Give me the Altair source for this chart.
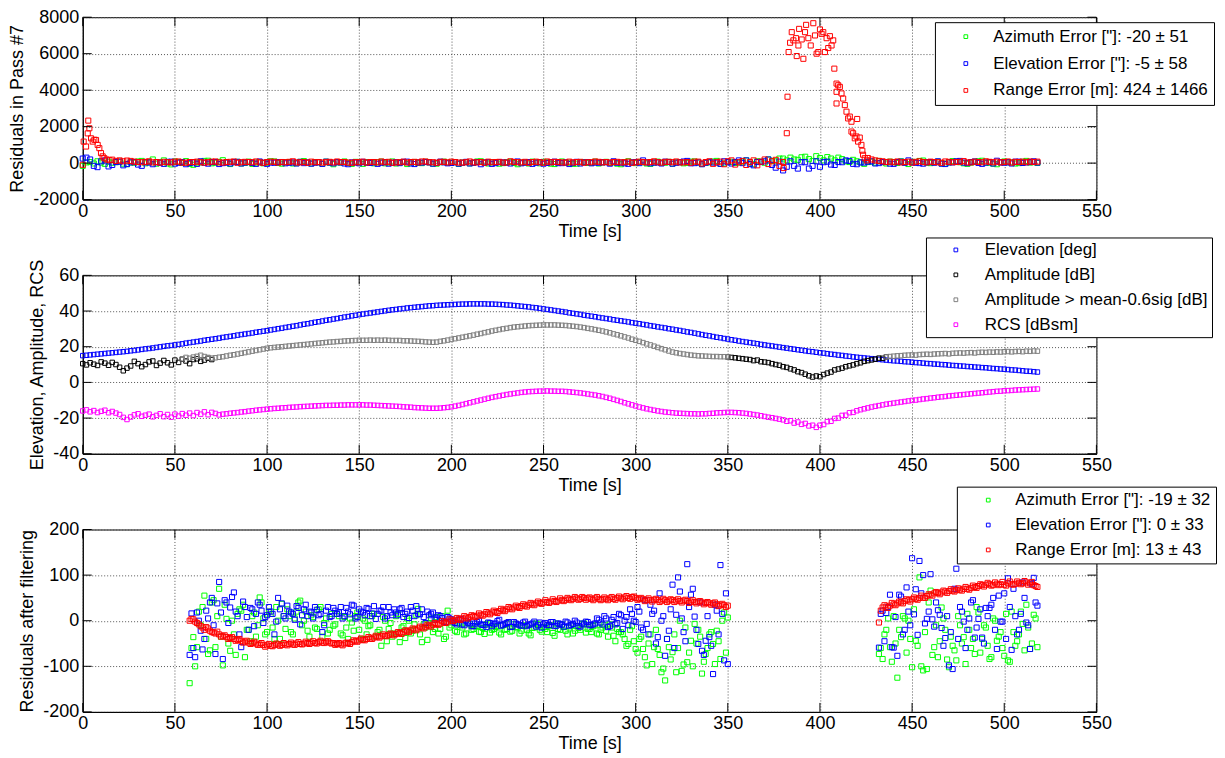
import altair as alt
import pandas as pd

FONT = "Liberation Sans, Arial, sans-serif"

X_TICKS = [0, 50, 100, 150, 200, 250, 300, 350, 400, 450, 500, 550]

# ---------------- Panel 1: residuals in pass #7 (t = 0, 2, 4 ... s) ----------------
P1_LABELS = ['Azimuth Error ["]: -20 \u00b1 51', 'Elevation Error ["]: -5 \u00b1 58',
             'Range Error [m]: 424 \u00b1 1466']
P1_COLORS = ["#00ff00", "#0000ff", "#ff0000"]
P1_YTICKS = [-2000, 0, 2000, 4000, 6000, 8000]
P1_STEP = 2
p1_az = [-150, 40, 60, -20, 100, 30, -40, 80, 20, 50,
         80, -30, -60, 40, 20, 90, 120, -10, 60, 200,
         -30, 50, 150, -20, -70, 90, 60, 10, 110, -40,
         -90, 30, 40, 120, 130, -10, 20, 70, 160, 40,
         -50, 60, 70, -20, 10, 80, -40, 30, 50, -10,
         20, 100, 90, 10, -30, 50, 60, -20, 0, 70,
         110, 30, -20, 60, 40, -30, 80, 20, -60, 50,
         30, 90, 10, -40, 70, 40, -40, 60, 20, -10,
         50, 80, -10, 30, 90, -20, 30, 60, -50, 40,
         60, 10, 0, 70, 40, -30, -30, 50, 80, 20,
         20, 60, -40, 30, 60, -10, 10, 90, 100, 40,
         -20, 50, 50, -30, 0, 60, 70, 10, -60, 30,
         30, -20, 80, 40, -10, 70, 40, -30, -50, 60,
         90, 20, 20, -40, -30, 50, 60, 10, 10, 80,
         -20, 40, 70, 10, 40, -30, -60, 50, 100, 30,
         0, 60, 50, -20, -40, 30, 80, 20, 20, 70,
         -30, 40, 60, -10, 10, 80, 90, 30, -50, 20,
         40, 90, 120, -30, -20, 60, 70, 10, 30, 80,
         150, 40, -60, 100, 80, 20, 200, 120, 100, 250,
         250, 150, 300, 200, 180, 320, 350, 220, 120, 380,
         280, 150, 330, 250, 150, 300, 220, 100, 60, 180,
         100, 40, -40, 60, 80, 20, 120, 50, -20, 80,
         60, 10, 100, 30, -50, 70, 40, 120, 140, 20,
         0, 60, 80, -20, -30, 40, 110, 70, 50, -10,
         -40, 30, 70, 100, 130, 20, 20, -30, -60, 50,
         90, 40, 40, -20, 0, 70, 120, 30, 60, 10]
p1_el = [250, 300, 200, -150, -220, 100, 150, -180, -100, 60,
         80, -120, -50, 40, 60, -80, -150, 50, 30, -60,
         50, 20, -40, 70, 80, -30, 20, 60, -60, 10,
         40, -40, 100, 20, -30, 60, 60, -50, 0, 30,
         -20, 50, 70, -20, 30, 60, 10, -40, 90, 20,
         -40, 30, 20, 60, 60, -10, 20, 40, -20, 70,
         0, 40, -30, 20, 50, -40, 80, 30, -10, 50,
         40, -20, -60, 40, 30, -10, 70, 20, 10, 50,
         -40, 20, 60, -30, 20, 50, 0, 70, 80, -20,
         -50, 40, 30, 60, 40, -30, 10, 80, 40, -10,
         10, 50, -30, 20, 70, -20, 20, 60, -60, 30,
         50, -40, 0, 60, 40, 20, -20, 70, 90, -10,
         30, 60, -40, 20, 60, -30, 10, 50, 80, 0,
         0, 40, -50, 20, 70, -20, 40, 60, -10, 30,
         20, 50, 50, -30, 100, 20, 30, -10, -40, 40,
         60, 0, 150, 40, -10, 30, 40, -20, 80, 60,
         -30, 20, 50, 90, 120, -10, 0, 40, -60, 20,
         70, 30, 30, -40, 100, 50, -20, 60, 150, 0,
         150, -50, -120, 60, 60, 100, 200, -100, -250, 80,
         -400, -200, 100, -150, -300, 50, 50, -300, -150, 100,
         -200, 50, 80, -80, -100, 60, 50, 150, 120, -40,
         -60, 40, 30, 80, 100, -20, 0, 60, 60, -30,
         -40, 60, 80, 20, 150, 40, 20, 0, -30, 50,
         60, 20, 100, -30, -50, 40, 40, 100, 120, 30,
         0, 60, 90, 10, -40, 30, 60, -20, 130, 40,
         20, 50, -20, 80, 80, 10, 40, 60, 100, 30]
p1_rng_head_t = [0, 0.5, 1.8, 2.7, 3.0, 3.6, 4.5, 5.4, 6.3, 7.2, 8.1, 9.0, 9.9, 10.8,
                 11.7, 13, 14.5, 16, 18, 20, 22, 24]
p1_rng_head_v = [-90, 1180, 910, 1630, 2330, 1910, 1360, 1180, 1280, 1270, 1000, 820, 550,
                 370, 270, 200, 160, 190, 120, 150, 100, 140]
P1_RNG_MID_START = 26
p1_rng_mid = [120, 80, 60, 50, 70, 100, 40, 60, 30, 70,
              50, 40, 80, 90, 30, 20, 60, 60, 80, 50,
              30, 50, 80, 90, 40, 30, 60, 70, 90, 20,
              50, 70, 60, 50, 90, 40, 20, 60, 80, 70,
              30, 60, 50, 70, 100, 40, 40, 60, 20, 80,
              50, 60, 30, 50, 70, 40, 90, 60, 60, 30,
              20, 50, 50, 80, 30, 60, 60, 40, 90, 50,
              70, 20, 40, 50, 80, 30, 60, 70, 40, 90,
              90, 50, 50, 20, 70, 70, 40, 80, 60, 30,
              30, 50, 90, 40, 40, 60, 20, 80, 50, 60,
              70, 30, 30, 100, 60, 50, 40, 70, 20, 60,
              80, 50, 20, 90, 50, 70, 60, 40, 30, 80,
              40, 60, 70, 20, 50, 50, 90, 70, 40, 60,
              30, 60, 70, 40, 50, 80, 20, 40, 80, 60,
              40, 60, 100, 50, 30, 70, 70, 50, 90, 40,
              40, 60, 20, 80, 80, -20, 60, 100, -40, 50,
              80, -60, 100, 150, -80, 50, 120, -100, 60, 150,
              -120, 80, 200, -50, 100, 180, -150, 60]
p1_rng_bump_t = [380.3, 382.0, 382.4, 383.0, 383.8, 384.7, 385.6, 387.0, 387.4, 388.3, 388.7,
                 390.1, 391.0, 391.9, 392.5, 393.7, 395.0, 396.4, 397.3, 398.2, 399.1, 400.0,
                 400.9, 401.8, 402.7, 403.6, 404.5, 405.4, 406.3, 407.2, 407.8, 409.0, 409.0,
                 409.0, 409.9, 410.8, 411.7, 412.6, 413.5, 414.4, 415.3, 416.2, 417.1, 417.1,
                 418.0, 418.9, 419.8, 420.2, 420.7, 421.6, 422.5, 423.0, 423.4, 424.3, 425.5]
p1_rng_bump_v = [-270, 1640, 3640, 6090, 6600, 7180, 6730, 6850, 5870, 6450, 7360,
                 6780, 5720, 7180, 7580, 6850, 6450, 7670, 7000, 6000, 6090, 7330,
                 7090, 7180, 6090, 6850, 6310, 6960, 6450, 6730, 5180, 4360, 3910,
                 3270, 4270, 4180, 3820, 3540, 3180, 2820, 2450, 2550, 2270, 1730,
                 1640, 1360, 1460, 2420, 1180, 1400, 1000, 680, 460, 270, 150]
P1_RNG_TAIL_START = 426
p1_rng_tail = [280, 200, 150, 120, 100, 60, 80, 50, 90, 40,
               60, 80, 30, 70, 100, 60, 40, 80, 60, 50,
               20, 90, 70, 50, 60, 70, 110, 40, 40, 80,
               60, 50, 100, 70, 50, 80, 40, 60, 90, 30,
               70, 60, 80, 50, 90, 60, 80]

# ---------------- Panel 2: elevation, amplitude, RCS (2 s sampling) ----------------
P2_LABELS = ["Elevation [deg]", "Amplitude [dB]", "Amplitude > mean-0.6sig [dB]", "RCS [dBsm]"]
P2_COLORS = ["#0000ff", "#000000", "#808080", "#ff00ff"]
P2_YTICKS = [-40, -20, 0, 20, 40, 60]
P2_STEP = 2
p2_elev = [15.0, 15.2, 15.4, 15.6, 15.8, 16.0, 16.2, 16.4, 16.6, 16.8,
           17.0, 17.2, 17.4, 17.7, 17.9, 18.2, 18.5, 18.8, 19.0, 19.3,
           19.6, 19.9, 20.2, 20.5, 20.7, 21.0, 21.3, 21.6, 22.0, 22.3,
           22.6, 22.9, 23.2, 23.6, 23.9, 24.2, 24.5, 24.8, 25.2, 25.5,
           25.8, 26.1, 26.5, 26.8, 27.1, 27.4, 27.7, 28.1, 28.4, 28.7,
           29.0, 29.4, 29.7, 30.1, 30.4, 30.8, 31.1, 31.5, 31.8, 32.2,
           32.6, 32.9, 33.3, 33.7, 34.0, 34.4, 34.8, 35.1, 35.5, 35.8,
           36.2, 36.6, 36.9, 37.3, 37.6, 38.0, 38.3, 38.6, 38.9, 39.2,
           39.5, 39.8, 40.1, 40.4, 40.7, 40.9, 41.2, 41.4, 41.7, 41.9,
           42.1, 42.3, 42.5, 42.7, 42.9, 43.0, 43.2, 43.3, 43.4, 43.5,
           43.6, 43.7, 43.8, 43.9, 43.9, 44.0, 44.0, 44.0, 44.0, 44.0,
           43.9, 43.9, 43.8, 43.7, 43.6, 43.4, 43.3, 43.1, 42.9, 42.7,
           42.5, 42.3, 42.0, 41.8, 41.5, 41.2, 40.9, 40.6, 40.3, 40.0,
           39.7, 39.4, 39.0, 38.7, 38.4, 38.1, 37.7, 37.4, 37.1, 36.8,
           36.4, 36.1, 35.8, 35.5, 35.1, 34.8, 34.5, 34.2, 33.9, 33.5,
           33.2, 32.9, 32.5, 32.2, 31.8, 31.5, 31.1, 30.8, 30.5, 30.1,
           29.8, 29.4, 29.1, 28.7, 28.3, 28.0, 27.6, 27.2, 26.8, 26.4,
           26.1, 25.7, 25.3, 25.0, 24.6, 24.3, 23.9, 23.6, 23.2, 22.9,
           22.6, 22.3, 22.0, 21.7, 21.3, 21.0, 20.7, 20.4, 20.1, 19.8,
           19.5, 19.2, 18.9, 18.6, 18.3, 18.0, 17.7, 17.4, 17.2, 16.9,
           16.6, 16.4, 16.1, 15.8, 15.6, 15.3, 15.1, 14.8, 14.6, 14.3,
           14.1, 13.9, 13.7, 13.5, 13.3, 13.1, 12.9, 12.7, 12.5, 12.3,
           12.1, 12.0, 11.8, 11.6, 11.5, 11.3, 11.1, 11.0, 10.8, 10.6,
           10.5, 10.3, 10.2, 10.0, 9.9, 9.7, 9.5, 9.4, 9.2, 9.1,
           8.9, 8.8, 8.6, 8.5, 8.3, 8.2, 8.0, 7.8, 7.7, 7.5,
           7.4, 7.2, 7.0, 6.9, 6.7, 6.5, 6.3, 6.2, 6.0, 5.8]
P2_AMP_A_START = 0
p2_amp_a = [10.5, 9.8, 11.0, 10.2, 9.5, 11.5, 10.8, 9.6, 11.2, 10.0, 8.5, 6.5, 8.0, 9.2, 11.8,
            10.5, 8.8, 10.0, 11.5, 12.0, 9.5, 10.8, 12.3, 11.0, 9.8, 12.5, 11.2, 13.0, 12.0,
            10.5, 12.8, 13.2, 11.8, 12.5, 13.5, 12.8]
P2_AMP_B_START = 350
p2_amp_b = [14.3, 14.0, 13.8, 13.5, 13.3, 13.0, 12.8, 12.2, 12.5, 11.6, 11.4, 11.1, 10.5, 10.0,
            9.6, 8.8, 8.4, 7.6, 7.0, 6.0, 5.5, 4.6, 3.7, 3.0, 3.6, 3.2, 4.4, 5.2, 5.8, 7.0, 7.5,
            8.0, 8.8, 9.3, 9.8, 10.5, 11.0, 11.8, 12.2, 12.6, 13.0, 13.6, 13.5, 14.3]
P2_GOOD_A_START = 54
p2_good_a = [13.2, 14.0, 13.5, 14.2, 14.6, 15.2, 14.5, 14.0, 13.6, 13.8,
             14.1, 14.4, 14.8, 15.2, 15.5, 15.9, 16.3, 16.7, 17.1, 17.5,
             17.9, 18.3, 18.7, 19.1, 19.4, 19.6, 19.8, 20.0, 20.2, 20.4,
             20.6, 20.8, 21.0, 21.2, 21.4, 21.6, 21.8, 22.0, 22.2, 22.4,
             22.6, 22.7, 22.9, 23.0, 23.2, 23.3, 23.4, 23.5, 23.6, 23.6,
             23.6, 23.7, 23.6, 23.7, 23.6, 23.7, 23.6, 23.5, 23.5, 23.5,
             23.3, 23.3, 23.2, 23.1, 23.0, 22.9, 22.7, 22.6, 22.5, 22.6,
             23.0, 23.3, 23.7, 24.1, 24.5, 24.9, 25.3, 25.7, 26.1, 26.5,
             27.0, 27.4, 27.9, 28.3, 28.8, 29.2, 29.6, 30.0, 30.3, 30.7,
             31.0, 31.2, 31.4, 31.6, 31.8, 31.9, 32.0, 32.1, 32.2, 32.2,
             32.2, 32.2, 32.1, 32.0, 31.9, 31.7, 31.5, 31.3, 31.0, 30.7,
             30.3, 30.0, 29.6, 29.2, 28.8, 28.3, 27.8, 27.2, 26.7, 26.1,
             25.5, 24.9, 24.2, 23.6, 23.0, 22.3, 21.6, 21.0, 20.3, 19.6,
             18.9, 18.3, 17.6, 17.0, 16.6, 16.2, 15.9, 15.6, 15.3, 15.1,
             14.9, 14.8, 14.7, 14.6, 14.5, 14.5, 14.4, 14.4, 14.3]
P2_GOOD_B_START = 436
p2_good_b = [14.3, 14.5, 14.7, 14.9, 15.0, 15.2, 15.3, 15.4, 15.3, 15.6,
             15.7, 15.8, 15.7, 15.9, 16.0, 16.1, 16.2, 16.0, 16.3, 16.4,
             16.5, 16.4, 16.6, 16.7, 16.5, 16.8, 16.9, 16.8, 17.0, 16.9,
             17.1, 17.0, 17.2, 17.3, 17.1, 17.3, 17.4, 17.2, 17.5, 17.4,
             17.6, 17.5]
p2_rcs = [-16.0, -15.4, -16.5, -15.8, -16.9, -16.2, -15.6, -17.0, -16.3, -17.2,
          -18.0, -19.6, -20.8, -19.4, -18.2, -17.6, -19.0, -18.4, -17.8, -19.3,
          -18.5, -17.6, -19.2, -18.0, -19.5, -17.8, -18.9, -17.5, -18.4, -17.2,
          -18.6, -16.9, -17.8, -16.5, -18.1, -16.8, -17.4, -18.2, -17.8, -17.6,
          -17.3, -17.1, -16.9, -16.6, -16.4, -16.1, -15.9, -15.6, -15.4, -15.2,
          -15.0, -14.8, -14.6, -14.5, -14.3, -14.2, -14.0, -13.9, -13.8, -13.6,
          -13.5, -13.4, -13.3, -13.2, -13.1, -13.0, -12.9, -12.9, -12.8, -12.8,
          -12.7, -12.7, -12.6, -12.6, -12.6, -12.6, -12.6, -12.7, -12.7, -12.8,
          -12.9, -13.0, -13.1, -13.2, -13.3, -13.4, -13.5, -13.7, -13.8, -13.9,
          -14.1, -14.2, -14.3, -14.4, -14.5, -14.5, -14.5, -14.4, -14.2, -14.0,
          -13.7, -13.3, -12.9, -12.4, -11.9, -11.4, -10.9, -10.4, -9.9, -9.4,
          -8.9, -8.4, -8.0, -7.6, -7.2, -6.8, -6.5, -6.2, -5.9, -5.6,
          -5.4, -5.2, -5.1, -5.0, -4.9, -4.9, -4.8, -4.9, -4.9, -5.0,
          -5.0, -5.1, -5.3, -5.5, -5.7, -5.9, -6.2, -6.5, -6.8, -7.1,
          -7.5, -7.9, -8.4, -8.9, -9.5, -10.1, -10.7, -11.4, -12.0, -12.6,
          -13.2, -13.8, -14.3, -14.8, -15.2, -15.6, -16.0, -16.3, -16.6, -16.8,
          -17.0, -17.2, -17.3, -17.4, -17.5, -17.6, -17.6, -17.7, -17.6, -17.6,
          -17.4, -17.3, -17.1, -17.0, -16.9, -16.8, -16.8, -16.9, -17.0, -17.2,
          -17.4, -17.7, -18.0, -18.3, -18.7, -19.1, -19.5, -19.8, -20.2, -20.6,
          -21.0, -21.8, -21.5, -22.8, -22.2, -23.5, -23.0, -24.4, -24.0, -25.2,
          -24.0, -23.6, -22.0, -21.8, -20.2, -20.0, -18.5, -18.4, -17.0, -16.8,
          -15.9, -15.3, -14.8, -14.3, -13.8, -13.4, -13.0, -12.6, -12.2, -11.9,
          -11.6, -11.3, -11.0, -10.7, -10.4, -10.1, -9.9, -9.6, -9.3, -9.1,
          -8.8, -8.6, -8.3, -8.1, -7.9, -7.6, -7.4, -7.2, -7.0, -6.8,
          -6.6, -6.4, -6.2, -6.0, -5.8, -5.6, -5.4, -5.2, -5.0, -4.9,
          -4.7, -4.6, -4.5, -4.3, -4.2, -4.1, -4.0, -3.9, -3.8, -3.7]

# ---------------- Panel 3: residuals after filtering ----------------
P3_LABELS = ['Azimuth Error ["]: -19 \u00b1 32', 'Elevation Error ["]: 0 \u00b1 33',
             'Range Error [m]: 13 \u00b1 43']
P3_COLORS = ["#00ff00", "#0000ff", "#ff0000"]
P3_YTICKS = [-200, -100, 0, 100, 200]
P3_STEP = 2
P3_SEG1_EVEN, P3_SEG1_ODD = 58, 59
P3_SEG2_EVEN, P3_SEG2_ODD = 432, 433
p3_az_1e = [-137, -36, -58, -10, 55, -73, 40, -58, 70, -98, 4, -66, -30, 15, 22, -80, -20, 10,
            -35, 51, 5, -25, 15, -40, 0, 37, -18, 10, -30, 20, 44, 0, -22, 12, -15, 25, -35, 5,
            -20, -11, 15, -28, 8, -40, -4, 10, -20,
            5, -30, -10, 15, -25, -55, 0, -18, -35, 10, -47, -12, 5, -28, -8, 26, -47, -15, -5,
            -25, 8, -18, -40, 22, -10, -22, -5, -15, -28, -8, -18, -12, -25, -29, -6, -20, -14,
            -26, -10, -18, -24, -8, -15, -22, -12, -28, -16, -6, -20, -14, -25, -10, -33, -18,
            -8, -22, -15, -28, -12, -20, -6, -18, -25, -10, -30, -15, -22, -8, -33, -18, -25,
            -40, -51, -12, -62, -40, -62, -98, -30, -58, -62, -113, -131, -58, -69, -113, 0,
            -96, -91, -44, -7, -20, -116, -73, -30, -51, -22, -84, 18, 7]
p3_az_1o = [-60, -100, 20, 30, -40, -65, 45, 10, -35, 35,
            -50, 0, -75, 25, 35, -20, -45, 18, -10, 40,
            -30, 20, -15, 30, -40, 10, 25, -25, 5, 40,
            -10, 20, -35, 8, -18, 30, -5, -28, 15, -8,
            10, -32, -15, 5, -22, 18, -40, 0, -12, 10,
            -35, -20, 8, -45, -5, -28, 15, -15, -38, 0,
            -22, 12, -30, -8, -42, 5, -18, -28, 10, -35,
            -15, 0, -25, -10, -30, -5, -20, -12, -24, -16,
            -8, -26, -18, -12, -30, -20, -6, -22, -14, -28,
            -10, -20, -32, -15, -8, -24, -18, -12, -27, -6,
            -20, -14, -30, -10, -22, -16, -8, -26, -18, -12,
            -28, -20, -10, -35, -15, -45, -25, -30, -55, -20,
            -45, -70, -35, -80, -50, -95, -20, -75, -105, -40,
            -85, -30, -60, -110, -15, -70, -100, -50, -35, -90,
            -60, -25, -95, -45, 0, -70]
p3_el_1e = [-75, -60, 18, -22, -40, 5, 50, -73, 85, -84, 40, 29, 62, 10, -58, 30, -20, 25, 15,
            35, -5, 12, 20, -30, 50, 38, 5, 20, 15, 32, -8, 25, 10, 18, 30, 12, -25, 22, 8, 28,
            15, 30, 10, 20, 35, 5, 25,
            18, 28, 10, 32, 15, 22, 5, 30, 12, 18, 25, 8, 20, 30, 10, 15, 25, -5, 12, 18, 5, 10,
            -2, 8, 3, -5, 2, -8, 0, -6, -12, -3, -8, -10, -4, -12, -6, 2, -9, -5, -14, -3, -8,
            -11, -2, -9, -6, -13, -4, -8, -10, -3, -12, -6, -9, -2, -11, -7, -4, -13, -8, -3,
            -10, -6, 2, -8, 5, -12, 8, -5, 12, 0, -10, 15, -3, 20, -20, -7, 35, 22, -36, 0, -77,
            -22, 79, 13, 64, -25, 124, 57, 9, -51, -66, -44, -36, -117, 22, 122, -87, -95]
p3_el_1o = [16, -80, 0, -63, 22, 40, -10, 38, 18, 45,
            -5, 52, 20, -30, 42, 8, 28, -12, 40, 22,
            8, 30, 15, -2, 25, 10, 33, 18, 2, 28,
            12, 35, 20, 5, 24, 15, -10, 30, 10, 22,
            18, 5, 28, 14, 33, 8, 20, 12, 26, 16,
            4, 22, 30, 10, 18, 25, 12, 28, 15, 6,
            22, 32, 14, 8, 20, 15, 2, 12, 6, -3,
            5, -2, -8, 4, -10, -4, -12, -6, 0, -9,
            -14, -5, -8, -1, -11, -7, -3, -13, -6, -10,
            -4, -12, -8, -2, -10, -15, -5, -9, -3, -11,
            -7, -13, -4, -9, 0, -12, -6, -2, -10, -8,
            5, -4, 10, -14, 2, -8, 15, -18, 8, 25,
            0, 30, -15, 45, -30, 15, -50, 60, 10, -40,
            25, -60, 95, 5, -45, 30, 70, -20, 40, -75,
            10, -55, 35, -30, 15, 60]
p3_rng_1e = [0, 3, -5, -12, -20, -17, -25, -28, -30, -34, -36, -38, -40, -42, -44, -46, -48,
             -49, -50, -52, -53, -54, -55, -53, -52, -53, -52, -51, -52, -50, -51, -50, -49, -48,
             -49, -47, -48, -46, -48, -49, -51, -52, -50, -49, -47, -45, -43, -42, -40, -39, -37,
             -35, -34, -33, -31, -30, -29, -27, -25, -23, -21, -19, -17, -15, -13, -11, -9, -7,
             -6, -4, -2, 0, 2, 3, 5, 7, 8, 10, 11, 13, 14, 16, 18, 19, 21, 23, 25, 27, 29, 30,
             32, 33, 35, 36, 38, 39, 40, 41, 42, 43, 44, 45, 46, 47, 48, 49, 48, 50, 49, 48, 49,
             48, 47, 48, 49, 48, 50, 49, 51, 50, 52, 50, 48, 47, 46, 45, 46, 45, 44, 45, 44, 45,
             44, 43, 44, 43, 42, 41, 42, 40, 39, 38, 38, 36, 35, 34, 33]
p3_rng_1o = [4, -2, -8, -15, -14, -22, -26, -24, -35, -32, -40, -36, -44, -40, -48, -44, -51,
             -46, -53, -49, -57,
             -51, -56, -50, -55, -49, -54, -48, -53, -47, -52, -46, -51, -45, -50, -44, -49,
             -45, -50, -53, -49, -54, -48, -51, -43, -46, -39, -43, -36, -40, -33, -37, -30,
             -34, -28, -32, -25, -29, -21, -25, -17, -21, -13, -17, -9, -13, -5, -9, -1, -5, 3,
             -1, 6, 2, 10, 5, 12, 8, 16, 11, 19, 14, 22, 17, 26, 21, 30, 25, 33, 28, 36, 31, 39,
             34, 42, 37, 45, 39, 47, 41, 49, 43, 50, 45, 52, 46, 52, 46, 51, 45, 52, 45, 51, 45,
             52, 46, 53, 47, 54, 48, 53,
             46, 50, 43, 49, 42, 48, 41, 48, 41, 47, 41, 47, 40, 46, 39, 45, 38, 43, 36, 41, 35,
             40, 32, 37, 30]
p3_az_2e = [-73, -84, -20, -58, 10, -125, -36, 5, 0, -102, -44, 95, -109, -106, 66, -58, -80,
            29, -20, -102, -55, -87, -10, -36, 15, -60, -73, 18, -40, -15, -84, 5, -44, -25,
            -77, -87, 20, -55, -30, -7, 35, -62, 13, -58]
p3_az_2o = [-60, -30, 5, -90, -50, -20, 10, -70, -40, 25,
            -55, -100, -25, 40, -75, -10, -45, 5, -85, -35,
            -65, 10, -50, -95, -20, -40, 30, -70, -10, -55,
            -80, 0, -35, -60, 15, -90, -25, -45, 20, -65,
            -15, -50, 5]
p3_el_2e = [-59, 22, 17, 57, -59, -77, 53, -20, 20, 137, 69, 131, 100, 4, 102, -13, 23, -16,
            -38, -98, -106, 114, 30, -2, -20, 40, -37, 4, -37, 28, 28, 50, -62, -2, 60, 93, -64,
            10, -20, 84, -4, -62, 94, 33]
p3_el_2o = [15, -45, 30, -58, 8, 57, -30, 73, -10, 14,
            -31, 60, -6, 20, 3, 40, 13, -55, 10, -25,
            70, -40, 20, -60, 5, 45, -15, 25, -50, 10,
            35, -20, 55, -2, -40, 30, 70, -30, 15, 50,
            -10, 80, 40]
p3_rng_2e = [-4, 29, 31, 33, 36, 38, 40, 43, 45, 47, 48, 50, 51, 54, 57, 60, 61, 62, 64, 65, 66,
             67, 68, 70, 70, 72, 74, 76, 78, 79, 80, 78, 81, 80, 79, 82, 80, 81, 83, 82, 84, 82,
             78, 74]
p3_rng_2o = [22, 34, 28, 39, 34, 42, 38, 47, 42, 51, 46, 55, 50, 58, 55, 63, 58, 66, 61, 69,
             64, 71, 66, 74, 68, 77, 72, 80, 75, 83, 77, 84, 78, 85, 77, 86, 79, 86, 80, 87,
             79, 85, 76]


def on_grid(start, step, values):
    return [(start + i * step, v) for i, v in enumerate(values)]


def frame(series_points):
    rows = []
    for name, pts in series_points:
        for t, v in pts:
            rows.append({"t": t, "v": v, "s": name})
    return pd.DataFrame(rows)


df1 = frame([
    (P1_LABELS[0], on_grid(0, P1_STEP, p1_az)),
    (P1_LABELS[1], on_grid(0, P1_STEP, p1_el)),
    (P1_LABELS[2], list(zip(p1_rng_head_t, p1_rng_head_v))
     + on_grid(P1_RNG_MID_START, P1_STEP, p1_rng_mid)
     + list(zip(p1_rng_bump_t, p1_rng_bump_v))
     + on_grid(P1_RNG_TAIL_START, P1_STEP, p1_rng_tail)),
])
df2 = frame([
    (P2_LABELS[0], on_grid(0, P2_STEP, p2_elev)),
    (P2_LABELS[1], on_grid(P2_AMP_A_START, P2_STEP, p2_amp_a)
     + on_grid(P2_AMP_B_START, P2_STEP, p2_amp_b)),
    (P2_LABELS[2], on_grid(P2_GOOD_A_START, P2_STEP, p2_good_a)
     + on_grid(P2_GOOD_B_START, P2_STEP, p2_good_b)),
    (P2_LABELS[3], on_grid(0, P2_STEP, p2_rcs)),
])
df3 = frame([
    (P3_LABELS[0], on_grid(P3_SEG1_EVEN, P3_STEP, p3_az_1e) + on_grid(P3_SEG1_ODD, P3_STEP, p3_az_1o)
     + on_grid(P3_SEG2_EVEN, P3_STEP, p3_az_2e) + on_grid(P3_SEG2_ODD, P3_STEP, p3_az_2o)),
    (P3_LABELS[1], on_grid(P3_SEG1_EVEN, P3_STEP, p3_el_1e) + on_grid(P3_SEG1_ODD, P3_STEP, p3_el_1o)
     + on_grid(P3_SEG2_EVEN, P3_STEP, p3_el_2e) + on_grid(P3_SEG2_ODD, P3_STEP, p3_el_2o)),
    (P3_LABELS[2], on_grid(P3_SEG1_EVEN, P3_STEP, p3_rng_1e) + on_grid(P3_SEG1_ODD, P3_STEP, p3_rng_1o)
     + on_grid(P3_SEG2_EVEN, P3_STEP, p3_rng_2e) + on_grid(P3_SEG2_ODD, P3_STEP, p3_rng_2o)),
])

W = 1017
TICK_LEN = 9


def x_enc(field):
    return alt.X(f"{field}:Q", scale=alt.Scale(domain=[0, 550], nice=False, zero=False),
                 axis=alt.Axis(values=X_TICKS, title="Time [s]", labelExpr="datum.value + ''",
                               labelPadding=3, titlePadding=2, grid=True, ticks=False,
                               labelFlush=False, labelOverlap=False))


def y_enc(field, domain, ticks, title):
    return alt.Y(f"{field}:Q", scale=alt.Scale(domain=domain, nice=False, zero=False),
                 axis=alt.Axis(values=ticks, title=title, labelExpr="datum.value + ''",
                               labelPadding=4, titlePadding=6, grid=True, ticks=False,
                               labelFlush=False, labelOverlap=False))


def panel(df, labels, colors, ydomain, yticks, ytitle, H, msize, legend):
    pts = alt.Chart(df).mark_point(shape="square", filled=False, size=msize,
                                   strokeWidth=1, opacity=1).encode(
        x=x_enc("t"),
        y=y_enc("v", ydomain, yticks, ytitle),
        color=alt.Color("s:N", scale=alt.Scale(domain=labels, range=colors), legend=legend),
    )
    xt = pd.DataFrame({"xt": X_TICKS})
    yt = pd.DataFrame({"yt": yticks})
    tb = alt.Chart(xt).mark_rule(color="black", strokeWidth=1).encode(
        x=x_enc("xt"), y=alt.value(H), y2=alt.value(H - TICK_LEN))
    tt = alt.Chart(xt).mark_rule(color="black", strokeWidth=1).encode(
        x=x_enc("xt"), y=alt.value(0), y2=alt.value(TICK_LEN))
    tl = alt.Chart(yt).mark_rule(color="black", strokeWidth=1).encode(
        y=y_enc("yt", ydomain, yticks, ytitle), x=alt.value(0), x2=alt.value(TICK_LEN))
    tr = alt.Chart(yt).mark_rule(color="black", strokeWidth=1).encode(
        y=y_enc("yt", ydomain, yticks, ytitle), x=alt.value(W), x2=alt.value(W - TICK_LEN))
    return alt.layer(pts, tb, tt, tl, tr).properties(width=W, height=H)


def legend(x, y, pad, sym_off, lab_off, row_pad):
    return alt.Legend(title=None, orient="none", legendX=x, legendY=y, fillColor="white",
                      strokeColor="black", padding=pad, symbolType="square", symbolSize=14,
                      symbolStrokeWidth=1, symbolOffset=sym_off, labelOffset=lab_off,
                      rowPadding=row_pad, labelFont=FONT, labelFontSize=17, labelColor="black",
                      labelLimit=500)


p1 = panel(df1, P1_LABELS, P1_COLORS, [-2000, 8000], P1_YTICKS, "Residuals in Pass #7", 183, 26,
           legend(855, 5, 6, 16.5, 19, 9))
p2 = panel(df2, P2_LABELS, P2_COLORS, [-40, 60], P2_YTICKS, "Elevation, Amplitude, RCS", 179, 20,
           legend(846, -38, 4, 17.5, 20.5, 7))
p3 = panel(df3, P3_LABELS, P3_COLORS, [-200, 200], P3_YTICKS, "Residuals after filtering", 183, 26,
           legend(877, -43, 5, 18, 18.5, 7))

chart = alt.vconcat(p1, p2, p3, spacing=76, bounds="flush").resolve_scale(
    y="independent", color="independent"
).resolve_legend(color="independent").properties(
    padding={"left": 0, "top": -2, "right": 0, "bottom": 0}
).configure_view(stroke="black", strokeWidth=1).configure_axis(
    labelFont=FONT, titleFont=FONT, labelFontSize=18, titleFontSize=18,
    titleFontWeight="normal", labelColor="black", titleColor="black",
    domainColor="black", gridColor="#555555", gridDash=[1, 2], gridWidth=1,
)

chart.save("out.html", embed_options={"renderer": "svg", "actions": False})
